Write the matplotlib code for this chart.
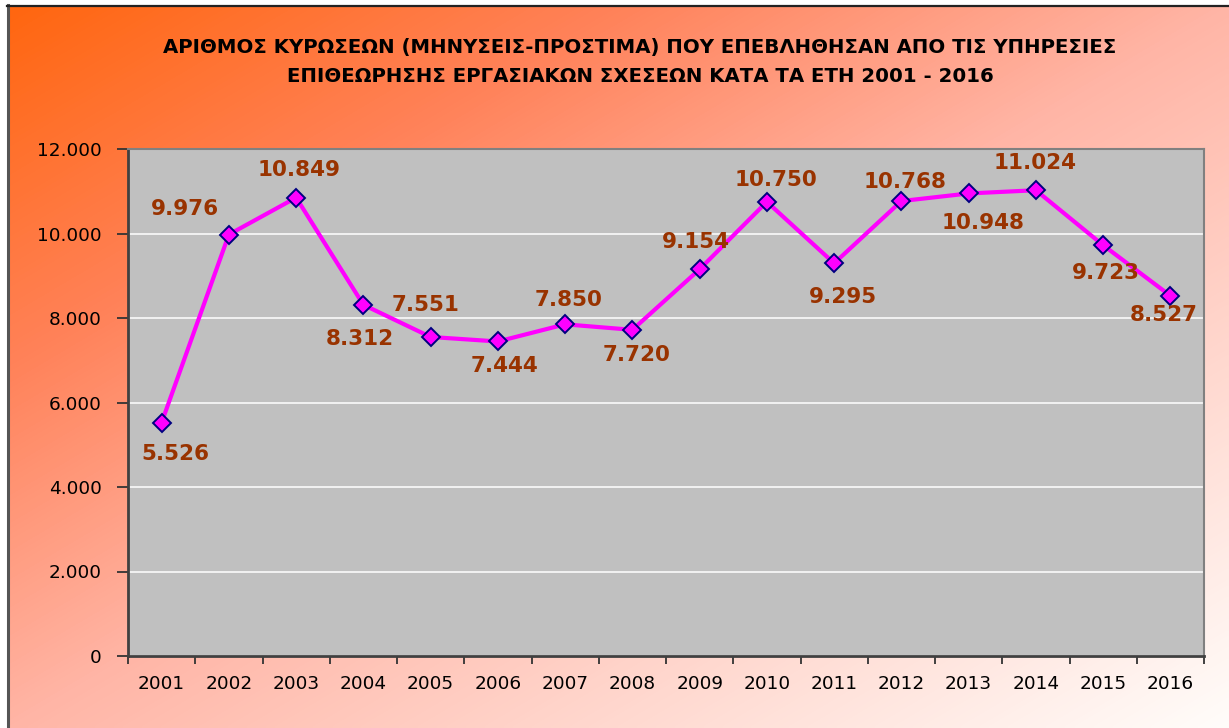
import numpy as np
import matplotlib
matplotlib.use("Agg")
import matplotlib.pyplot as plt
from matplotlib.colors import LinearSegmentedColormap
from matplotlib.ticker import FuncFormatter, FixedLocator

# Δεδομένα
years = ['2001', '2002', '2003', '2004', '2005', '2006', '2007', '2008',
         '2009', '2010', '2011', '2012', '2013', '2014', '2015', '2016']
kyroseis = [5526, 9976, 10849, 8312, 7551, 7444, 7850, 7720,
            9154, 10750, 9295, 10768, 10948, 11024, 9723, 8527]
title_lines = ['ΑΡΙΘΜΟΣ ΚΥΡΩΣΕΩΝ (ΜΗΝΥΣΕΙΣ-ΠΡΟΣΤΙΜΑ) ΠΟΥ ΕΠΕΒΛΗΘΗΣΑΝ ΑΠΟ ΤΙΣ ΥΠΗΡΕΣΙΕΣ',
               'ΕΠΙΘΕΩΡΗΣΗΣ ΕΡΓΑΣΙΑΚΩΝ ΣΧΕΣΕΩΝ ΚΑΤΑ ΤΑ ΕΤΗ 2001 - 2016']

# θέση ετικετών (pixels) σε σχέση με κάθε σημείο
label_offsets = [(14, -31), (-44, 26), (3, 28), (-4, -34), (-5, 32), (7, -25),
                 (3, 24), (4, -25), (-4, 27), (9, 22), (9, -34), (4, 19),
                 (14, -30), (-1, 27), (3, -28), (-7, -19)]

W, H = 1229, 728
fig = plt.figure(figsize=(W / 100, H / 100), dpi=100)
fig.patch.set_facecolor('white')

# Φόντο με διαβάθμιση
bg = fig.add_axes([0, 0, 1, 1])
bg.set_xlim(0, W)
bg.set_ylim(H, 0)
bg.axis('off')
cmap = LinearSegmentedColormap.from_list('bg', [
    (0.0, (1.0, 0.40, 0.06)),
    (0.25, (1.0, 0.51, 0.35)),
    (0.5, (1.0, 0.71, 0.65)),
    (1.0, (1.0, 0.99, 0.98))])
gx, gy = np.meshgrid(np.linspace(0, 1, 300), np.linspace(0, 1, 200))
bg.imshow((gx + gy) / 2, cmap=cmap, extent=[7, W, H, 5], aspect='auto',
          vmin=0, vmax=1, interpolation='bilinear')
bg.plot([7.5, 7.5], [5, H], color='#555555', lw=2.2)
bg.plot([7, W], [5.5, 5.5], color='#222222', lw=1.6)

for i, line in enumerate(title_lines):
    fig.text(640 / W, 1 - (47 + 29 * i) / H, line, ha='center', va='center',
             fontsize=14.2, fontweight='bold', family='DejaVu Sans', color='black')

# Περιοχή γραφήματος
ax = fig.add_axes([128 / W, (H - 656) / H, (1204 - 128) / W, (656 - 149) / H])
ax.set_facecolor('#C0C0C0')
x = np.arange(len(years))
ax.plot(x, kyroseis, color='#FF00FF', lw=3, marker='D', markersize=9.5,
        markerfacecolor='#FF00FF', markeredgecolor='#000080', markeredgewidth=1.4,
        zorder=3)

for xi, v, (dx, dy) in zip(x, kyroseis, label_offsets):
    ax.annotate(f'{v:,}'.replace(',', '.'), (xi, v), xytext=(dx, dy),
                textcoords='offset pixels', ha='center', va='center',
                fontsize=15.5, fontweight='bold', family='DejaVu Sans',
                color='#993300', zorder=4, annotation_clip=False)

ax.set_xlim(-0.5, len(years) - 0.5)
ax.set_ylim(0, 12000)
ax.set_yticks(np.arange(0, 12001, 2000))
ax.yaxis.set_major_formatter(FuncFormatter(lambda v, p: f'{int(v):,}'.replace(',', '.')))
ax.grid(axis='y', color='white', lw=1.1)
ax.set_axisbelow(True)

ax.xaxis.set_major_locator(FixedLocator(np.arange(-0.5, len(years), 1)))
ax.xaxis.set_minor_locator(FixedLocator(x))
ax.set_xticklabels([])
ax.set_xticklabels(years, minor=True)
ax.tick_params(axis='x', which='major', length=6, width=1.3, color='#333333', direction='out')
ax.tick_params(axis='x', which='minor', length=0, pad=14, labelsize=13.3)
ax.tick_params(axis='y', length=8, width=1.3, color='#333333', pad=11, labelsize=13.3)
for lab in ax.get_xticklabels(minor=True) + ax.get_yticklabels():
    lab.set_family('DejaVu Sans')

for s in ['left', 'bottom']:
    ax.spines[s].set_color('#404040')
    ax.spines[s].set_linewidth(2)
for s in ['right', 'top']:
    ax.spines[s].set_color('#808080')
    ax.spines[s].set_linewidth(1.5)

fig.savefig('out.png', dpi=100)
